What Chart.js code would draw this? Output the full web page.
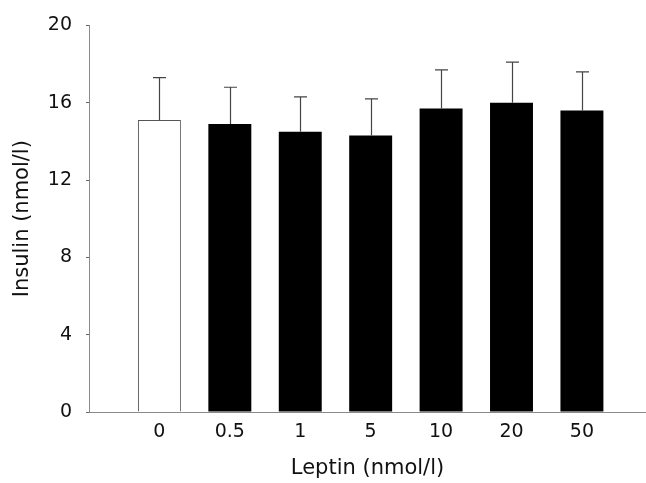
<!DOCTYPE html>
<html>
<head>
    <title>Insulin vs Leptin</title>
    <script src="https://cdn.jsdelivr.net/npm/chart.js"></script>
    <style>
        body { margin: 0; background: #fff; }
        #wrap { width: 646px; height: 483px; }
    </style>
</head>
<body>
    <div id="wrap"><canvas id="insulinChart" width="646" height="483"></canvas></div>

    <script>
        // leptin doses (x tick labels) and insulin mean / SD
        const leptinDoses = ['0', '0.5', '1', '5', '10', '20', '50'];
        const insulinMean = [15.1, 14.9, 14.5, 14.3, 15.7, 16.0, 15.6];
        const insulinSD = [2.2, 1.9, 1.8, 1.9, 2.0, 2.1, 2.0];
        const barColors = ['#ffffff', '#000000', '#000000', '#000000', '#000000', '#000000', '#000000'];
        const yTicks = [0, 4, 8, 12, 16, 20];

        const points = leptinDoses.map((d, i) => ({ x: i + 1, y: insulinMean[i] }));
        const fontFamily = 'DejaVu Sans, Liberation Sans, Arial';

        // upward error bars with a small cap
        const errorBars = {
            id: 'errorBars',
            afterDatasetsDraw(chart) {
                const ctx = chart.ctx;
                const yScale = chart.scales.y;
                const meta = chart.getDatasetMeta(0);
                ctx.save();
                ctx.strokeStyle = '#444';
                ctx.lineWidth = 1.2;
                meta.data.forEach((bar, i) => {
                    const x = Math.round(bar.x) + 0.5;
                    const top = yScale.getPixelForValue(insulinMean[i] + insulinSD[i]);
                    ctx.beginPath();
                    ctx.moveTo(x, bar.y);
                    ctx.lineTo(x, top);
                    ctx.moveTo(x - 6.5, top);
                    ctx.lineTo(x + 6.5, top);
                    ctx.stroke();
                });
                ctx.restore();
            }
        };

        const ctx = document.getElementById('insulinChart').getContext('2d');
        const myChart = new Chart(ctx, {
            type: 'bar',
            data: {
                datasets: [{
                    data: points,
                    backgroundColor: barColors,
                    borderColor: '#555',
                    borderWidth: [1, 0, 0, 0, 0, 0, 0],
                    borderSkipped: 'bottom',
                    barPercentage: 0.61,
                    categoryPercentage: 1
                }]
            },
            options: {
                responsive: false,
                animation: false,
                layout: { padding: { top: 19, right: 0, bottom: 0, left: 0 } },
                plugins: {
                    legend: { display: false },
                    tooltip: { enabled: false }
                },
                scales: {
                    x: {
                        type: 'linear',
                        offset: false,
                        min: 0,
                        max: 7.91,
                        afterFit(scale) { scale.height = 71; },
                        afterBuildTicks(scale) {
                            scale.ticks = leptinDoses.map((d, i) => ({ value: i + 1 }));
                        },
                        grid: { display: false },
                        border: { display: true, color: '#8a8a8a', width: 1 },
                        ticks: {
                            autoSkip: false,
                            maxRotation: 0,
                            padding: 1,
                            color: '#111',
                            font: { family: fontFamily, size: 19 },
                            callback: (v) => leptinDoses[v - 1]
                        },
                        title: {
                            display: true,
                            text: 'Leptin (nmol/l)',
                            color: '#111',
                            padding: { top: 0, bottom: 2 },
                            font: { family: fontFamily, size: 21 }
                        }
                    },
                    y: {
                        min: 0,
                        max: 20,
                        afterFit(scale) { scale.width = 89; },
                        afterBuildTicks(scale) {
                            scale.ticks = yTicks.map(v => ({ value: v }));
                        },
                        grid: {
                            drawOnChartArea: false,
                            tickLength: 3,
                            color: '#666'
                        },
                        border: { display: true, color: '#8a8a8a', width: 1 },
                        ticks: {
                            padding: 14,
                            color: '#111',
                            font: { family: fontFamily, size: 19 }
                        },
                        title: {
                            display: true,
                            text: 'Insulin (nmol/l)',
                            color: '#111',
                            padding: { top: 10, bottom: 0 },
                            font: { family: fontFamily, size: 21 }
                        }
                    }
                }
            },
            plugins: [errorBars]
        });
    </script>
</body>
</html>
